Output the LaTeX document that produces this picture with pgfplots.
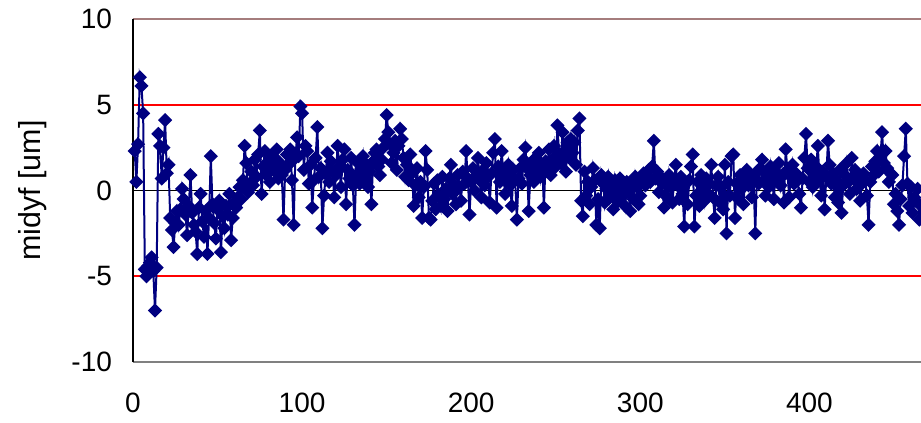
\documentclass[border=0pt]{standalone}
\usepackage{fontspec}
\setmainfont{Liberation Sans}
\usepackage{pgfplots}
\pgfplotsset{compat=1.18}
\usetikzlibrary{calc}
\definecolor{navyd}{RGB}{0,0,128}
\definecolor{topline}{RGB}{165,125,125}
\definecolor{botline}{RGB}{128,128,128}

\begin{document}
\begin{tikzpicture}
\begin{axis}[name=ax, scale only axis, width=394pt, height=171.5pt,
  xmin=0, xmax=466, ymin=-10, ymax=10, clip=false,
  xtick={0,100,200,300,400}, ytick={-10,-5,0,5,10},
  axis line style={draw=none},
  tick align=inside, ytick pos=left, xtick style={draw=none},
  ytick style={black, line width=0.6pt}, major tick length=4.5pt,
  /pgf/number format/assume math mode=true,
  ticklabel style={font=\fontsize{14}{16}\selectfont},
  yticklabel style={xshift=-7pt},
  xticklabel style={yshift=-12pt},
  ylabel={midyf [um]},
  every axis y label/.style={at={(axis description cs:0,0.5)}, xshift=-50pt,
    rotate=90, anchor=center, font=\fontsize{15.2}{18}\selectfont}]
 \draw[red, line width=1pt] (axis cs:0,5) -- (axis cs:466,5);
 \draw[red, line width=1pt] (axis cs:0,-5) -- (axis cs:466,-5);
 \draw[black, line width=0.6pt] (axis cs:0,0) -- (axis cs:466,0);
 \draw[topline, line width=1pt] (axis cs:0,10) -- (axis cs:466,10);
 \draw[botline, line width=1pt] (axis cs:0,-10) -- (axis cs:466,-10);
 \draw[black, line width=0.8pt] (axis cs:0,-10) -- (axis cs:0,10);
 \addplot[navyd, line width=1pt, mark=square*, mark size=2pt,
   mark options={rotate=45, fill=navyd, draw=navyd}] coordinates {
 (1,2.3) (2,0.5) (3,2.7) (4,6.6) (5,6.1) (6,4.5) (7,-4.6) (8,-5.0) (9,-4.4) (10,-4.2)
 (11,-3.9) (12,-4.7) (13,-7.0) (14,-4.5) (15,3.3) (16,2.6) (17,0.7) (18,2.5) (19,4.1) (20,1.0)
 (21,1.5) (22,-1.6) (23,-2.3) (24,-3.3) (25,-1.9) (26,-1.2) (27,-2.0) (28,-1.1) (29,0.1) (30,-0.5)
 (31,-1.4) (32,-2.6) (33,-0.9) (34,0.9) (35,-1.3) (36,-2.0) (37,-2.4) (38,-3.7) (39,-1.0) (40,-0.2)
 (41,-1.8) (42,-2.7) (43,-1.2) (44,-3.7) (45,-1.6) (46,2.0) (47,-0.8) (48,-1.9) (49,-2.8) (50,-1.1)
 (51,-0.6) (52,-3.6) (53,-1.5) (54,-2.2) (55,-0.9) (56,-1.4) (57,-0.2) (58,-2.9) (59,-1.6) (60,-0.7)
 (61,-1.0) (62,-0.4) (63,0.2) (64,-0.5) (65,0.6) (66,2.6) (67,1.6) (68,-0.1) (69,0.4) (70,1.1)
 (71,0.3) (72,1.8) (73,0.8) (74,2.1) (75,3.5) (76,-0.2) (77,1.4) (78,2.3) (79,0.9) (80,1.7)
 (81,0.5) (82,1.3) (83,2.0) (84,1.1) (85,2.4) (86,0.7) (87,1.6) (88,0.9) (89,-1.7) (90,1.2)
 (91,2.1) (92,1.5) (93,2.4) (94,0.6) (95,-2.0) (96,1.9) (97,3.1) (98,2.0) (99,4.9) (100,4.5)
 (101,1.2) (102,2.6) (103,2.3) (104,0.4) (105,1.5) (106,-1.0) (107,0.6) (108,1.9) (109,3.7) (110,0.8)
 (111,1.3) (112,-2.2) (113,-0.3) (114,1.0) (115,2.2) (116,0.5) (117,1.7) (118,1.1) (119,-0.4) (120,0.9)
 (121,2.6) (122,1.4) (123,0.2) (124,1.8) (125,2.4) (126,-0.8) (127,1.2) (128,0.7) (129,1.9) (130,0.3)
 (131,-2.0) (132,0.9) (133,1.6) (134,0.4) (135,1.3) (136,2.0) (137,0.8) (138,1.5) (139,0.2) (140,1.1)
 (141,-0.8) (142,1.7) (143,2.2) (144,2.4) (145,1.4) (146,0.9) (147,1.8) (148,2.5) (149,3.0) (150,4.4)
 (151,3.4) (152,2.7) (153,1.6) (154,2.2) (155,2.9) (156,1.2) (157,2.6) (158,3.6) (159,3.0) (160,1.9)
 (161,0.8) (162,1.5) (163,0.6) (164,2.1) (165,1.0) (166,-0.9) (167,0.3) (168,1.3) (169,-0.4) (170,0.5)
 (171,-1.6) (172,0.2) (173,2.3) (174,1.2) (175,-1.6) (176,-1.7) (177,-0.6) (178,0.4) (179,-1.1) (180,0.6)
 (181,-0.3) (182,-0.9) (183,0.8) (184,-0.5) (185,0.1) (186,-1.2) (187,0.7) (188,1.5) (189,-0.2) (190,0.3)
 (191,-0.8) (192,0.9) (193,0.2) (194,-0.6) (195,1.1) (196,0.4) (197,2.3) (198,0.7) (199,-1.4) (200,0.5)
 (201,1.3) (202,0.0) (203,0.9) (204,1.9) (205,0.6) (206,-0.4) (207,1.2) (208,0.3) (209,1.6) (210,0.8)
 (211,-0.7) (212,1.0) (213,2.2) (214,3.0) (215,-1.0) (216,1.4) (217,0.5) (218,2.3) (219,1.1) (220,-0.2)
 (221,0.8) (222,1.5) (223,0.3) (224,-0.9) (225,1.2) (226,0.6) (227,-1.7) (228,0.7) (229,1.3) (230,0.4)
 (231,1.8) (232,2.5) (233,1.3) (234,-1.2) (235,0.9) (236,1.6) (237,0.5) (238,1.9) (239,1.1) (240,2.2)
 (241,0.8) (242,1.5) (243,-1.0) (244,1.7) (245,1.2) (246,2.4) (247,0.9) (248,1.8) (249,2.6) (250,1.4)
 (251,3.8) (252,2.1) (253,1.6) (254,3.4) (255,2.3) (256,1.1) (257,2.8) (258,1.9) (259,3.0) (260,2.2)
 (261,2.8) (262,1.5) (263,3.5) (264,4.2) (265,-0.6) (266,-1.5) (267,1.1) (268,-0.3) (269,0.5) (270,-0.8)
 (271,0.2) (272,1.3) (273,0.6) (274,-2.0) (275,-0.5) (276,-2.2) (277,0.9) (278,0.4) (279,-0.7) (280,0.1)
 (281,0.8) (282,-0.4) (283,0.3) (284,-1.1) (285,0.6) (286,0.0) (287,-0.6) (288,0.7) (289,0.2) (290,-0.3)
 (291,-0.9) (292,0.5) (293,0.1) (294,-1.2) (295,0.4) (296,-0.5) (297,0.8) (298,0.2) (299,-0.8) (300,-0.3)
 (301,0.6) (302,1.0) (303,0.3) (304,0.9) (305,1.2) (306,0.5) (307,1.4) (308,2.9) (309,0.7) (310,1.1)
 (311,-0.1) (312,0.8) (313,0.4) (314,-1.0) (315,0.6) (316,-0.4) (317,0.9) (318,0.2) (319,-0.7) (320,0.5)
 (321,1.5) (322,0.3) (323,-0.5) (324,0.8) (325,-0.2) (326,-2.1) (327,0.4) (328,-0.8) (329,0.6) (330,1.4)
 (331,2.1) (332,-2.1) (333,-0.3) (334,0.5) (335,-0.9) (336,0.9) (337,0.1) (338,-0.6) (339,0.7) (340,-0.2)
 (341,0.4) (342,1.5) (343,-0.4) (344,-1.6) (345,0.3) (346,0.8) (347,-0.7) (348,0.2) (349,-1.1) (350,1.5)
 (351,-2.5) (352,0.5) (353,-0.3) (354,2.0) (355,2.1) (356,-1.6) (357,0.4) (358,-0.5) (359,0.9) (360,0.1)
 (361,-0.8) (362,0.6) (363,1.2) (364,0.3) (365,0.9) (366,-0.4) (367,0.5) (368,-2.5) (369,1.1) (370,0.4)
 (371,1.3) (372,1.8) (373,0.6) (374,-0.3) (375,0.9) (376,0.2) (377,1.4) (378,0.7) (379,-0.5) (380,1.1)
 (381,0.5) (382,1.6) (383,0.3) (384,0.9) (385,-0.7) (386,2.4) (387,1.2) (388,-0.4) (389,0.8) (390,1.5)
 (391,0.4) (392,1.0) (393,0.6) (394,-0.2) (395,-1.0) (396,0.7) (397,1.9) (398,3.3) (399,1.3) (400,0.5)
 (401,1.8) (402,0.2) (403,0.9) (404,1.4) (405,2.6) (406,0.6) (407,-0.3) (408,1.1) (409,-1.1) (410,0.8)
 (411,2.9) (412,1.5) (413,0.4) (414,1.0) (415,-0.4) (416,0.6) (417,-0.7) (418,1.2) (419,-1.3) (420,0.3)
 (421,0.9) (422,1.6) (423,0.5) (424,-0.2) (425,1.9) (426,0.7) (427,1.2) (428,0.1) (429,0.8) (430,-0.6)
 (431,0.4) (432,1.0) (433,0.6) (434,-0.3) (435,-2.0) (436,0.5) (437,1.4) (438,0.9) (439,1.7) (440,2.3)
 (441,1.1) (442,2.0) (443,3.4) (444,1.6) (445,2.3) (446,1.3) (447,0.5) (448,1.0) (449,0.9) (450,-0.8)
 (451,-0.2) (452,-1.2) (453,-2.0) (454,-0.5) (455,0.3) (456,2.0) (457,3.6) (458,0.4) (459,-0.9) (460,0.2)
 (461,-1.3) (462,-0.4) (463,-0.6) (464,0.1) (465,-1.7) (466,-0.9)
 };
\end{axis}
\pgfresetboundingbox
\path[use as bounding box] ($(ax.south west)+(-66.5pt,-30.5pt)$) rectangle ($(ax.north east)+(0pt,9.5pt)$);
\end{tikzpicture}
\end{document}
